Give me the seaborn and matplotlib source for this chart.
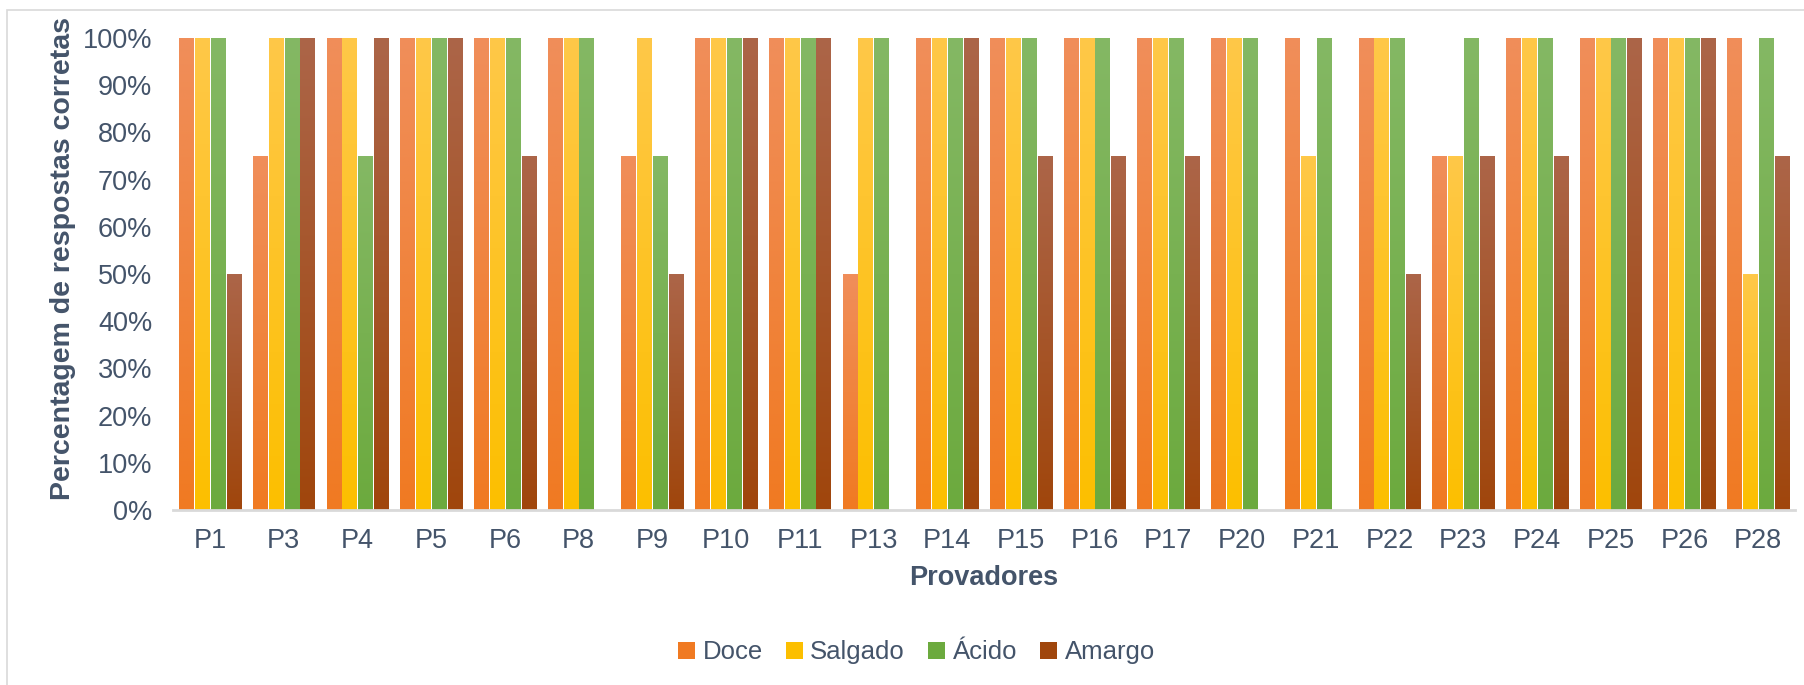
import numpy as np
import pandas as pd
import matplotlib.pyplot as plt
import seaborn as sns
from matplotlib.patches import Patch, Rectangle
from matplotlib.colors import to_rgb

# Dados: percentagem de respostas corretas por provador
provadores = ['P1', 'P3', 'P4', 'P5', 'P6', 'P8', 'P9', 'P10', 'P11', 'P13', 'P14',
              'P15', 'P16', 'P17', 'P20', 'P21', 'P22', 'P23', 'P24', 'P25', 'P26', 'P28']
doce    = [1.00, 0.75, 1.00, 1.00, 1.00, 1.00, 0.75, 1.00, 1.00, 0.50, 1.00,
           1.00, 1.00, 1.00, 1.00, 1.00, 1.00, 0.75, 1.00, 1.00, 1.00, 1.00]
salgado = [1.00, 1.00, 1.00, 1.00, 1.00, 1.00, 1.00, 1.00, 1.00, 1.00, 1.00,
           1.00, 1.00, 1.00, 1.00, 0.75, 1.00, 0.75, 1.00, 1.00, 1.00, 0.50]
acido   = [1.00, 1.00, 0.75, 1.00, 1.00, 1.00, 0.75, 1.00, 1.00, 1.00, 1.00,
           1.00, 1.00, 1.00, 1.00, 1.00, 1.00, 1.00, 1.00, 1.00, 1.00, 1.00]
amargo  = [0.50, 1.00, 1.00, 1.00, 0.75, 0.00, 0.50, 1.00, 1.00, 0.00, 1.00,
           0.75, 0.75, 0.75, 0.00, 0.00, 0.50, 0.75, 0.75, 1.00, 1.00, 0.75]
gostos = ['Doce', 'Salgado', 'Ácido', 'Amargo']
yticks = [0, 0.1, 0.2, 0.3, 0.4, 0.5, 0.6, 0.7, 0.8, 0.9, 1.0]

# Cores (topo claro -> base escura, estilo Excel)
cores_base = ['#F07A22', '#FCBF00', '#6CAA3E', '#A0460C']
cores_topo = ['#F08E5A', '#FFC848', '#84B864', '#AC6548']
texto = '#44546A'

df = pd.DataFrame({
    'Provador': np.repeat(provadores, 4),
    'Gosto': gostos * len(provadores),
    'Valor': np.ravel(np.column_stack([doce, salgado, acido, amargo])),
})

sns.set_style("white")
plt.rcParams['font.family'] = ['Liberation Sans', 'DejaVu Sans']

fig = plt.figure(figsize=(18.04, 6.85), dpi=100)
ax = fig.add_axes([0.096, 0.2555, 0.899, 0.689])

sns.barplot(data=df, x='Provador', y='Valor', hue='Gosto', hue_order=gostos,
            order=provadores, palette=cores_base, width=0.86, gap=0.1,
            legend=False, ax=ax)

# Gradiente vertical em cada barra
for patch in list(ax.patches):
    x, y = patch.get_x(), patch.get_y()
    w, h = patch.get_width(), patch.get_height()
    if h <= 0:
        continue
    fc = patch.get_facecolor()[:3]
    i = int(np.argmin([np.sum((np.array(fc) - np.array(to_rgb(c))) ** 2) for c in cores_base]))
    top, bot = np.array(to_rgb(cores_topo[i])), np.array(to_rgb(cores_base[i]))
    t = np.linspace(0, 1, 100)[:, None]
    grad = (top * (1 - t) + bot * t)[:, None, :]
    ax.imshow(grad, extent=[x, x + w, y, y + h], aspect='auto', origin='upper',
              interpolation='bilinear', zorder=2)
    patch.set_visible(False)

ax.set_xlim(-0.5, len(provadores) - 0.5)
ax.set_ylim(0, 1.0)
ax.set_yticks(yticks)
ax.set_yticklabels([f'{int(round(v * 100))}%' for v in yticks])

for s in ['top', 'right', 'left']:
    ax.spines[s].set_visible(False)
ax.spines['bottom'].set_color('#D9D9D9')
ax.spines['bottom'].set_linewidth(2)
ax.tick_params(axis='both', length=0, labelsize=19.5, colors=texto)
ax.tick_params(axis='x', pad=13)
ax.tick_params(axis='y', pad=15)

ax.set_xlabel('Provadores', fontsize=19.5, fontweight='bold', color=texto, labelpad=8)
ax.set_ylabel('Percentagem de respostas corretas', fontsize=20.5, fontweight='bold',
              color=texto)
ax.yaxis.set_label_coords(-0.060, 0.532)

handles = [Patch(facecolor=c, edgecolor='none') for c in cores_base]
fig.legend(handles, gostos, loc='center', bbox_to_anchor=(0.508, 0.048), ncol=4,
           frameon=False, fontsize=18.5, labelcolor=texto, handlelength=0.65,
           handleheight=0.65, handletextpad=0.3, columnspacing=0.9)

# Moldura do gráfico
fig.patches.append(Rectangle((0.004, -0.01), 1.0, 0.995, transform=fig.transFigure,
                             fill=False, edgecolor='#D9D9D9', linewidth=1.2))

fig.savefig('out.png', dpi=100)
